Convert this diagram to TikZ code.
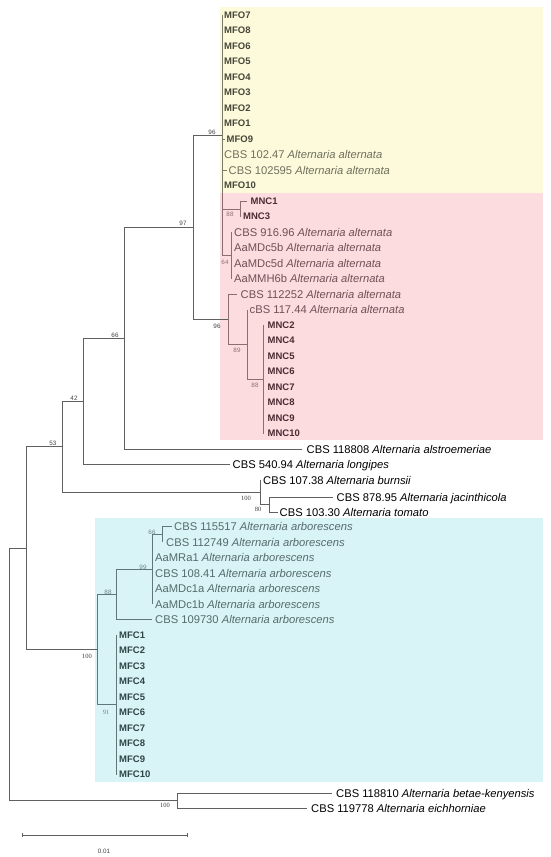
\documentclass[tikz,border=0pt]{standalone}
\usepackage{fontspec}
\setmainfont{Liberation Sans}
\newfontfamily\numserif{Liberation Serif}
\definecolor{yelbg}{HTML}{FDFADB}
\definecolor{pinkbg}{HTML}{FDDCE0}
\definecolor{cyanbg}{HTML}{D9F4F6}
\definecolor{lnO}{HTML}{606060}
\definecolor{lnY}{HTML}{7A7A68}
\definecolor{lnP}{HTML}{8A6E72}
\definecolor{lnC}{HTML}{5F7779}
\definecolor{txYB}{HTML}{47473A}
\definecolor{txYR}{HTML}{6F6F5F}
\definecolor{txPB}{HTML}{4A2C33}
\definecolor{txPR}{HTML}{6E5157}
\definecolor{txCB}{HTML}{2F4446}
\definecolor{txCR}{HTML}{566A6C}
\definecolor{bsO}{HTML}{404040}
\definecolor{bsP}{HTML}{8A7075}
\definecolor{bsC}{HTML}{6E8486}
\tikzset{
  leafR/.style={font=\fontsize{11.2}{12}\selectfont, anchor=base west, yshift=-4pt, inner sep=0pt},
  leafB/.style={font=\bfseries\fontsize{9.5}{11}\selectfont, anchor=base west, yshift=-3.4pt, inner sep=0pt},
  yB/.style={leafB, text=txYB}, yR/.style={leafR, text=txYR},
  pB/.style={leafB, text=txPB}, pR/.style={leafR, text=txPR},
  cB/.style={leafB, text=txCB}, cR/.style={leafR, text=txCR},
  oR/.style={leafR, text=black},
  brO/.style={draw=lnO, line width=0.8pt},
  brY/.style={draw=lnY, line width=0.8pt},
  brP/.style={draw=lnP, line width=0.8pt},
  brC/.style={draw=lnC, line width=0.8pt},
  bs/.style={font=\fontsize{6.3}{7}\selectfont, inner sep=0pt, text=bsO},
  bss/.style={font=\numserif\fontsize{6.5}{7}\selectfont, inner sep=0pt, text=bsO},
}
\newcommand\lf[6]{\coordinate (#1) at (#2,{#4});\node[#5] (#1-t) at (#3,{#4}) {#6};}
\newcommand\alt[1]{\textit{Alternaria #1}}
\begin{document}
\begin{tikzpicture}[x=1pt,y=-1pt]
\useasboundingbox (0,0) rectangle (550,857);
% backgrounds
\fill[yelbg] (220,7) rectangle (543,193);
\fill[pinkbg] (220,193) rectangle (543,440);
\fill[cyanbg] (95,518) rectangle (543,782);
% internal nodes
\coordinate (root) at (9,674);
\coordinate (nA) at (26,548);
\coordinate (nB) at (177,800.5);
\coordinate (n53) at (62,446.8);
\coordinate (n42) at (83,401.3);
\coordinate (n66) at (124,338);
\coordinate (n97) at (193,227.1);
\coordinate (n96a) at (222,135);
\coordinate (n88a) at (240,209);
\coordinate (n64) at (231,255.3);
\coordinate (n96b) at (228,319.2);
\coordinate (n89) at (247,344.4);
\coordinate (n88b) at (263,379.3);
\coordinate (nburn) at (260,492.3);
\coordinate (n80) at (269,504.5);
\coordinate (n100) at (97,649.5);
\coordinate (n88c) at (116,594.3);
\coordinate (n99) at (152,569.1);
\coordinate (n66b) at (162,534.3);
\coordinate (n91) at (116,704.8);
\coordinate (ysplit) at (222,193);
% leaves: MFO clade
\foreach \n [count=\k from 0] in {7,8,6,5,4,3,2,1} {\lf{l\k}{222}{224}{15+15.5*\k}{yB}{MFO\n}}
\lf{l8}{225}{226.5}{139}{yB}{MFO9}
\lf{l9}{222}{224}{154.5}{yR}{CBS 102.47 \alt{alternata}}
\lf{l10}{227}{228.5}{170}{yR}{CBS 102595 \alt{alternata}}
\lf{l11}{222}{224}{185.5}{yB}{MFO10}
% MNC
\lf{l12}{247}{250.5}{201}{pB}{MNC1}
\lf{l13}{240}{243}{216.5}{pB}{MNC3}
\lf{l14}{231}{234}{232}{pR}{CBS 916.96 \alt{alternata}}
\lf{l15}{231}{234}{247.5}{pR}{AaMDc5b \alt{alternata}}
\lf{l16}{231}{234}{263}{pR}{AaMDc5d \alt{alternata}}
\lf{l17}{231}{234}{278.5}{pR}{AaMMH6b \alt{alternata}}
\lf{l18}{237}{240.5}{294}{pR}{CBS 112252 \alt{alternata}}
\lf{l19}{247}{249.5}{309.5}{pR}{cBS 117.44 \alt{alternata}}
\foreach \n [count=\k from 20] in {2,4,5,6,7,8,9,10} {\lf{l\k}{263}{267.5}{15+15.5*\k}{pB}{MNC\n}}
% outgroups
\lf{l28}{302}{306.5}{449}{oR}{CBS 118808 \alt{alstroemeriae}}
\lf{l29}{230}{232.5}{464.5}{oR}{CBS 540.94 \alt{longipes}}
\lf{l30}{260}{263}{480}{oR}{CBS 107.38 \alt{burnsii}}
\lf{l31}{333}{336.5}{497}{oR}{CBS 878.95 \alt{jacinthicola}}
\lf{l32}{278}{279.5}{512}{oR}{CBS 103.30 \alt{tomato}}
% arborescens
\lf{l33}{172}{174}{526.5}{cR}{CBS 115517 \alt{arborescens}}
\lf{l34}{162}{166}{542}{cR}{CBS 112749 \alt{arborescens}}
\lf{l35}{152}{155}{557.5}{cR}{AaMRa1 \alt{arborescens}}
\lf{l36}{152}{155}{573}{cR}{CBS 108.41 \alt{arborescens}}
\lf{l37}{152}{155}{588.5}{cR}{AaMDc1a \alt{arborescens}}
\lf{l38}{152}{155}{604}{cR}{AaMDc1b \alt{arborescens}}
\lf{l39}{152}{155}{619.5}{cR}{CBS 109730 \alt{arborescens}}
\foreach \n [count=\k from 40] in {1,...,10} {\lf{l\k}{116}{119}{15+15.5*\k}{cB}{MFC\n}}
\lf{l50}{332}{336}{793}{oR}{CBS 118810 \alt{betae-kenyensis}}
\lf{l51}{307}{311}{808}{oR}{CBS 119778 \alt{eichhorniae}}
% ---- branches ----
% root
\draw[brO] (root|-nA) -- (root|-nB);
\draw[brO] (root|-nA) -- (nA);
\draw[brO] (root|-nB) -- (nB);
% nB
\draw[brO] (nB|-l50) -- (nB|-l51);
\draw[brO] (nB|-l50) -- (l50);
\draw[brO] (nB|-l51) -- (l51);
% nA
\draw[brO] (nA|-n53) -- (nA|-n100);
\draw[brO] (nA|-n53) -- (n53);
\draw[brO] (nA|-n100) -- (n100);
% n53
\draw[brO] (n53|-n42) -- (n53|-nburn);
\draw[brO] (n53|-n42) -- (n42);
\draw[brO] (n53|-nburn) -- (nburn);
% n42
\draw[brO] (n42|-n66) -- (n42|-l29);
\draw[brO] (n42|-n66) -- (n66);
\draw[brO] (n42|-l29) -- (l29);
% n66
\draw[brO] (n66|-n97) -- (n66|-l28);
\draw[brO] (n66|-n97) -- (n97);
\draw[brO] (n66|-l28) -- (l28);
% n97
\draw[brO] (n97|-n96a) -- (n97|-n96b);
\draw[brO] (n97|-n96a) -- (n96a);
\draw[brO] (n97|-n96b) -- (n96b);
% n96a
\draw[brY] (n96a|-l0) -- (ysplit);
\draw[brP] (ysplit) -- (n96a|-n64);
\draw[brY] (n96a|-l8) -- (l8);
\draw[brY] (n96a|-l10) -- (l10);
\draw[brP] (n96a|-n88a) -- (n88a);
\draw[brP] (n96a|-n64) -- (n64);
% n88a
\draw[brP] (n88a|-l12) -- (n88a|-l13);
\draw[brP] (n88a|-l12) -- (l12);
% n64
\draw[brP] (n64|-l14) -- (n64|-l17);
% n96b
\draw[brP] (n96b|-l18) -- (n96b|-n89);
\draw[brP] (n96b|-l18) -- (l18);
\draw[brP] (n96b|-n89) -- (n89);
% n89
\draw[brP] (n89|-l19) -- (n89|-n88b);
\draw[brP] (n89|-n88b) -- (n88b);
% n88b
\draw[brP] (n88b|-l20) -- (n88b|-l27);
% nburn
\draw[brO] (nburn|-l30) -- (nburn|-n80);
\draw[brO] (nburn|-n80) -- (n80);
\draw[brO] (n80|-l31) -- (n80|-l32);
\draw[brO] (n80|-l31) -- (l31);
\draw[brO] (n80|-l32) -- (l32);
% n100 arborescens
\draw[brC] (n100|-n88c) -- (n100|-n91);
\draw[brC] (n100|-n88c) -- (n88c);
\draw[brC] (n100|-n91) -- (n91);
\draw[brC] (n88c|-n99) -- (n88c|-l39);
\draw[brC] (n88c|-n99) -- (n99);
\draw[brC] (n88c|-l39) -- (l39);
\draw[brC] (n99|-n66b) -- (n99|-l38);
\draw[brC] (n99|-n66b) -- (n66b);
\draw[brC] (n66b|-l33) -- (n66b|-l34);
\draw[brC] (n66b|-l33) -- (l33);
\draw[brC] (n91|-l40) -- (n91|-l49);
% ---- bootstrap values ----
\node[bs] (b96a) at (212,132) {96};
\node[bs] (b97) at (183,223) {97};
\node[bs] (b66) at (115,335) {66};
\node[bs] (b42) at (74,398) {42};
\node[bs] (b53) at (53,443) {53};
\node[bs] (b96b) at (217,326) {96};
\node[bs, text=bsP] (b88a) at (230,214.5) {88};
\node[bs, text=bsP] (b64) at (225,262) {64};
\node[bs, text=bsP] (b89) at (237,350) {89};
\node[bs, text=bsP] (b88b) at (255,385) {88};
\node[bss] (b100burn) at (246,498) {100};
\node[bss] (b80) at (258,509) {80};
\node[bs, text=bsC] (b66b) at (152,532) {66};
\node[bs, text=bsC] (b99) at (143,567) {99};
\node[bs, text=bsC] (b88c) at (108,592) {88};
\node[bss] (b100arb) at (87,656) {100};
\node[bss, text=bsC] (b91) at (106,712) {91};
\node[bss] (b100B) at (165,805) {100};
% ---- scale bar ----
\coordinate (sb1) at (22,835);
\coordinate (sb2) at (187,835);
\draw[brO] (sb1) -- (sb2);
\draw[brO] ([yshift=2pt]sb1) -- ([yshift=-2pt]sb1);
\draw[brO] ([yshift=2pt]sb2) -- ([yshift=-2pt]sb2);
\node[bs] (sblab) at (104,851) {0.01};
\end{tikzpicture}
\end{document}
